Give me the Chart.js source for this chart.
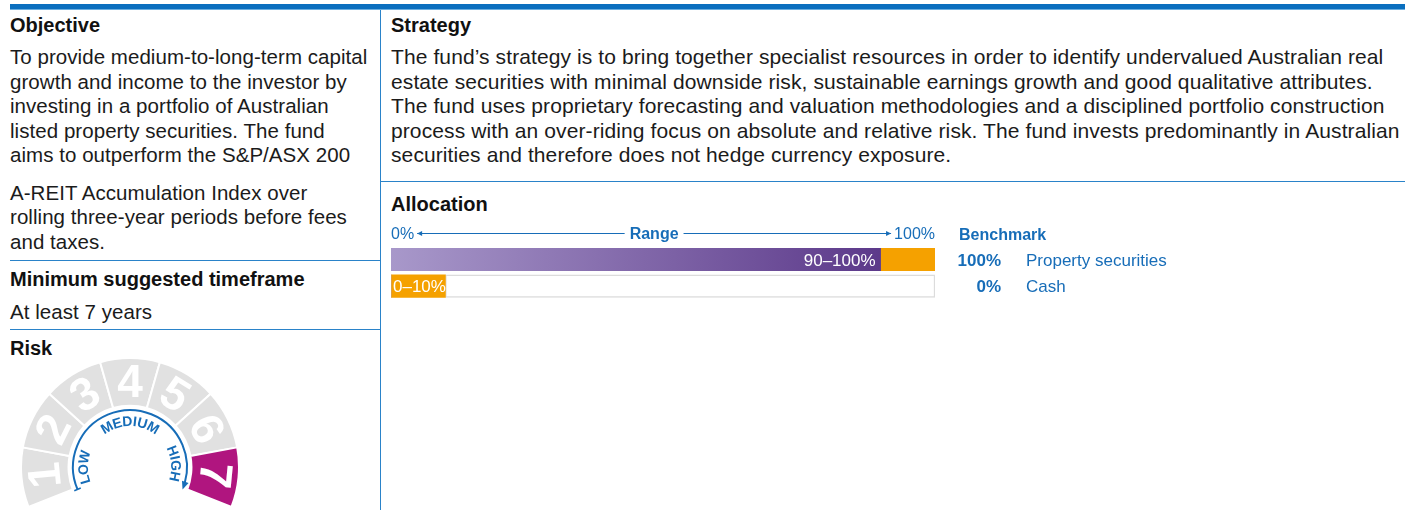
<!DOCTYPE html>
<html>
<head>
<meta charset="utf-8">
<script src="https://cdn.jsdelivr.net/npm/chart.js@4.4.1/dist/chart.umd.min.js"></script>
<style>
  html, body { margin: 0; padding: 0; background: #fff; }
  body { width: 1405px; height: 510px; overflow: hidden; position: relative;
         font-family: "Liberation Sans", Arial, sans-serif; color: #1b1b1b; }
  .abs { position: absolute; white-space: nowrap; }
  .h { font-weight: bold; font-size: 20px; line-height: 24.5px; color: #111; }
  .t { font-size: 21px; line-height: 24.5px; letter-spacing: 0.1px; }
  .left .t, .t.left { font-size: 20.5px; letter-spacing: 0.05px; }
  .rule { position: absolute; background: #2a83c9; }
  canvas { position: absolute; }
</style>
</head>
<body>
<div class="rule" style="left:10px;top:4px;width:1395px;height:5px;background:#0a6fbf"></div>
<div class="rule" style="left:10px;top:9px;width:1395px;height:1px;background:#6aaee0"></div>
<div class="rule" style="left:380px;top:10px;width:1px;height:500px"></div>
<div class="rule" style="left:10px;top:260px;width:370px;height:1px"></div>
<div class="rule" style="left:10px;top:329px;width:370px;height:1px"></div>
<div class="rule" style="left:380px;top:181px;width:1025px;height:1px"></div>

<div class="abs h" style="left:10px;top:13px">Objective</div>
<div class="abs t left" style="left:10px;top:45px">To provide medium-to-long-term capital<br>growth and income to the investor by<br>investing in a portfolio of Australian<br>listed property securities. The fund<br>aims to outperform the S&amp;P/ASX 200</div>
<div class="abs t left" style="left:10px;top:180.5px">A-REIT Accumulation Index over<br>rolling three-year periods before fees<br>and taxes.</div>
<div class="abs h" style="left:10px;top:267px">Minimum suggested timeframe</div>
<div class="abs t left" style="left:10px;top:300px">At least 7 years</div>
<div class="abs h" style="left:10px;top:336px">Risk</div>

<div class="abs h" style="left:391px;top:13px">Strategy</div>
<div class="abs t" style="left:391px;top:45px">The fund’s strategy is to bring together specialist resources in order to identify undervalued Australian real<br>estate securities with minimal downside risk, sustainable earnings growth and good qualitative attributes.<br>The fund uses proprietary forecasting and valuation methodologies and a disciplined portfolio construction<br>process with an over-riding focus on absolute and relative risk. The fund invests predominantly in Australian<br>securities and therefore does not hedge currency exposure.</div>
<div class="abs h" style="left:391px;top:192px">Allocation</div>

<canvas id="alloc" width="820" height="90" style="left:380px;top:220px"></canvas>
<canvas id="risk" width="220" height="151" style="left:20px;top:357px"></canvas>

<script>
const assetClasses = ['Property securities', 'Cash'];
const rangeMin = [90, 0];
const rangeMax = [100, 10];
const benchmark = [100, 0];

const riskLevels = ['1', '2', '3', '4', '5', '6', '7'];
const riskWeights = [1, 1, 1, 1, 1, 1, 1];
const fundRisk = 7;
const riskBands = ['LOW', 'MEDIUM', 'HIGH'];

const BLUE = '#176db8';
const FONT = '"Liberation Sans", Arial, sans-serif';

function purpleFill(context) {
    const chart = context.chart;
    if (!chart.chartArea || !chart.scales.x) return '#8a6cb3';
    const x = chart.scales.x;
    const g = chart.ctx.createLinearGradient(x.getPixelForValue(0), 0, x.getPixelForValue(rangeMin[0]), 0);
    g.addColorStop(0, '#a898ca');
    g.addColorStop(1, '#5c398a');
    return g;
}

function arrowHead(ctx, x, y, dir) {
    ctx.beginPath();
    ctx.moveTo(x, y);
    ctx.lineTo(x - dir * 5, y - 2.5);
    ctx.lineTo(x - dir * 5, y + 2.5);
    ctx.closePath();
    ctx.fill();
}

// range header, bar labels and benchmark column
const allocText = {
    id: 'allocText',
    afterDatasetsDraw(chart) {
        const ctx = chart.ctx;
        const x = chart.scales.x, y = chart.scales.y;
        const x0 = x.getPixelForValue(0), x100 = x.getPixelForValue(100);
        ctx.save();
        ctx.fillStyle = BLUE;
        ctx.strokeStyle = BLUE;
        ctx.lineWidth = 1;
        ctx.textBaseline = 'alphabetic';

        ctx.font = '16px ' + FONT;
        ctx.textAlign = 'left';
        ctx.fillText('0%', x0, 19);
        const w0 = ctx.measureText('0%').width;
        ctx.textAlign = 'right';
        ctx.fillText('100%', x100, 19);
        const w100 = ctx.measureText('100%').width;
        ctx.font = 'bold 16px ' + FONT;
        ctx.textAlign = 'center';
        const mid = (x0 + w0 + x100 - w100) / 2;
        ctx.fillText('Range', mid, 19);
        const wr = ctx.measureText('Range').width / 2;
        const ly = 13.5;
        ctx.beginPath();
        ctx.moveTo(x0 + w0 + 3, ly); ctx.lineTo(mid - wr - 5, ly);
        ctx.moveTo(mid + wr + 5, ly); ctx.lineTo(x100 - w100 - 3, ly);
        ctx.stroke();
        arrowHead(ctx, x0 + w0 + 3, ly, -1);
        arrowHead(ctx, x100 - w100 - 3, ly, 1);

        // bar labels
        ctx.fillStyle = '#fff';
        ctx.font = '17px ' + FONT;
        assetClasses.forEach((c, i) => {
            const cy = y.getPixelForValue(i) + 6;
            const txt = rangeMin[i] + '–' + rangeMax[i] + '%';
            if (rangeMin[i] > 0) {
                ctx.textAlign = 'right';
                ctx.fillText(txt, x.getPixelForValue(rangeMin[i]) - 5, cy);
            } else {
                ctx.textAlign = 'left';
                ctx.fillText(txt, x0 + 2, cy);
            }
        });

        // benchmark
        ctx.fillStyle = BLUE;
        ctx.textAlign = 'left';
        ctx.font = 'bold 16px ' + FONT;
        ctx.fillText('Benchmark', 579, 20);
        assetClasses.forEach((c, i) => {
            const cy = y.getPixelForValue(i) + 6;
            ctx.font = 'bold 17px ' + FONT;
            ctx.textAlign = 'right';
            ctx.fillText(benchmark[i] + '%', 621, cy);
            ctx.font = '17px ' + FONT;
            ctx.textAlign = 'left';
            ctx.fillText(c, 646, cy);
        });
        ctx.restore();
    }
};

new Chart(document.getElementById('alloc'), {
    type: 'bar',
    data: {
        labels: assetClasses,
        datasets: [{
            data: rangeMin,
            backgroundColor: purpleFill,
            borderWidth: 0,
            barThickness: 22.5
        }, {
            data: rangeMax.map((v, i) => v - rangeMin[i]),
            backgroundColor: '#f5a100',
            borderWidth: 0,
            barThickness: 22.5
        }, {
            data: rangeMax.map(v => 100 - v),
            backgroundColor: '#ffffff',
            borderColor: '#dcdcdc',
            borderWidth: c => (c.raw > 0 ? 1.5 : 0),
            borderSkipped: false,
            barThickness: 22.5
        }]
    },
    options: {
        indexAxis: 'y',
        responsive: false,
        animation: false,
        layout: { padding: { left: 11, right: 265, top: 26.15, bottom: 10.45 } },
        scales: {
            x: { display: false, stacked: true, min: 0, max: 100 },
            y: { display: false, stacked: true }
        },
        plugins: {
            legend: { display: false },
            tooltip: { enabled: false }
        }
    },
    plugins: [allocText]
});

function arcText(ctx, text, cx, cy, r, mid, spacing) {
    const chars = [...text];
    const widths = chars.map(ch => ctx.measureText(ch).width);
    const total = widths.reduce((a, b) => a + b, 0) + spacing * (chars.length - 1);
    let ang = mid - total / r / 2;
    chars.forEach((ch, i) => {
        const a = ang + widths[i] / 2 / r;
        ctx.save();
        ctx.translate(cx + Math.cos(a) * r, cy + Math.sin(a) * r);
        ctx.rotate(a + Math.PI / 2);
        ctx.fillText(ch, 0, 0);
        ctx.restore();
        ang += (widths[i] + spacing) / r;
    });
}

// digits on the dial plus the LOW-MEDIUM-HIGH arrow
const riskText = {
    id: 'riskText',
    afterDatasetsDraw(chart) {
        const ctx = chart.ctx;
        const arcs = chart.getDatasetMeta(0).data;
        const c = arcs[0].getProps(['x', 'y']);
        ctx.save();
        ctx.fillStyle = '#fff';
        ctx.font = 'bold 46px ' + FONT;
        ctx.textAlign = 'center';
        ctx.textBaseline = 'middle';
        arcs.forEach((arc, i) => {
            const p = arc.getProps(['x', 'y', 'startAngle', 'endAngle', 'innerRadius', 'outerRadius']);
            const a = (p.startAngle + p.endAngle) / 2;
            const r = (p.innerRadius + p.outerRadius) / 2;
            ctx.save();
            ctx.translate(p.x + Math.cos(a) * r, p.y + Math.sin(a) * r);
            ctx.rotate(a + Math.PI / 2);
            ctx.fillText(riskLevels[i], 0, 2);
            ctx.restore();
        });

        const deg = Math.PI / 180;
        const ra = 57, a0 = 157 * deg, a1 = 380 * deg;
        ctx.strokeStyle = BLUE;
        ctx.fillStyle = BLUE;
        ctx.lineWidth = 2;
        ctx.beginPath();
        ctx.arc(c.x, c.y, ra, a0, a1 - 4 / ra, false);
        ctx.stroke();
        ctx.beginPath();
        ctx.moveTo(c.x + Math.cos(a0) * (ra - 3.5), c.y + Math.sin(a0) * (ra - 3.5));
        ctx.lineTo(c.x + Math.cos(a0) * (ra + 3.5), c.y + Math.sin(a0) * (ra + 3.5));
        ctx.lineWidth = 1.5;
        ctx.stroke();
        // arrow head
        const ex = c.x + Math.cos(a1) * ra, ey = c.y + Math.sin(a1) * ra;
        const tx = -Math.sin(a1), ty = Math.cos(a1);
        const nx = Math.cos(a1), ny = Math.sin(a1);
        ctx.beginPath();
        ctx.moveTo(ex + tx * 3, ey + ty * 3);
        ctx.lineTo(ex - tx * 5 + nx * 3.5, ey - ty * 5 + ny * 3.5);
        ctx.lineTo(ex - tx * 5 - nx * 3.5, ey - ty * 5 - ny * 3.5);
        ctx.closePath();
        ctx.fill();

        ctx.font = 'bold 14px ' + FONT;
        arcText(ctx, riskBands[0], c.x, c.y, 46, Math.PI, 0.3);
        arcText(ctx, riskBands[1], c.x, c.y, 45, -Math.PI / 2, 0.5);
        arcText(ctx, riskBands[2], c.x, c.y, 45, -0.08, 0.3);
        ctx.restore();
    }
};

new Chart(document.getElementById('risk'), {
    type: 'doughnut',
    data: {
        labels: riskLevels,
        datasets: [{
            data: riskWeights,
            backgroundColor: riskLevels.map(l => (+l === fundRisk ? '#b0157f' : '#e1e1e1')),
            borderColor: '#ffffff',
            borderWidth: 2
        }]
    },
    options: {
        responsive: false,
        animation: false,
        rotation: -111.4,
        circumference: 222.8,
        cutout: '56.4%',
        layout: { padding: 0 },
        plugins: {
            legend: { display: false },
            tooltip: { enabled: false }
        }
    },
    plugins: [riskText]
});
</script>
</body>
</html>
